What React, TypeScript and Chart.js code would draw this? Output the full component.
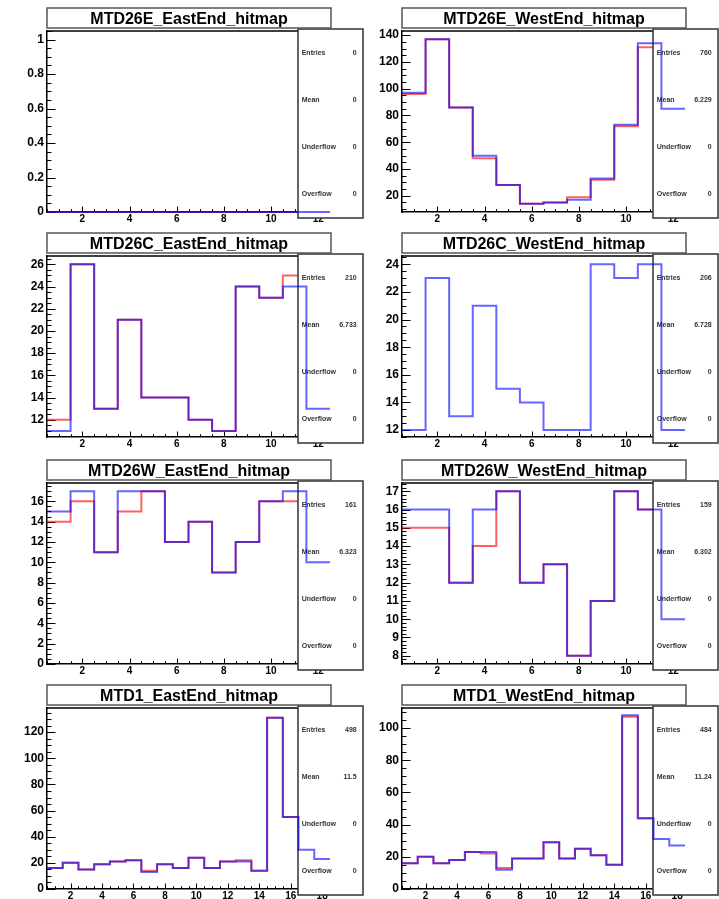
import React, { useEffect, useRef } from 'react';
import { Chart, registerables } from 'chart.js';

Chart.register(...registerables);

const FONT = "'Liberation Sans', Arial, Helvetica, sans-serif";

// ---------- data ----------
const titles = [
  'MTD26E_EastEnd_hitmap',
  'MTD26E_WestEnd_hitmap',
  'MTD26C_EastEnd_hitmap',
  'MTD26C_WestEnd_hitmap',
  'MTD26W_EastEnd_hitmap',
  'MTD26W_WestEnd_hitmap',
  'MTD1_EastEnd_hitmap',
  'MTD1_WestEnd_hitmap',
];

// red = first-drawn histogram (stats box belongs to it), blue = overlay
const e26EastRed = [0, 0, 0, 0, 0, 0, 0, 0, 0, 0, 0, 0];
const e26EastBlue = [0, 0, 0, 0, 0, 0, 0, 0, 0, 0, 0, 0];
const e26WestRed = [96, 137, 86, 48, 28, 14, 15, 19, 32, 72, 131, 82];
const e26WestBlue = [97, 137, 86, 50, 28, 14, 15, 17, 33, 73, 134, 85];
const c26EastRed = [12, 26, 13, 21, 14, 14, 12, 11, 24, 23, 25, 15];
const c26EastBlue = [11, 26, 13, 21, 14, 14, 12, 11, 24, 23, 24, 13];
const c26WestRed = [12, 23, 13, 21, 15, 14, 12, 12, 24, 23, 24, 13];
const c26WestBlue = [12, 23, 13, 21, 15, 14, 12, 12, 24, 23, 24, 12];
const w26EastRed = [14, 16, 11, 15, 17, 12, 14, 9, 12, 16, 16, 9];
const w26EastBlue = [15, 17, 11, 17, 17, 12, 14, 9, 12, 16, 17, 10];
const w26WestRed = [15, 15, 12, 14, 17, 12, 13, 8, 11, 17, 16, 9];
const w26WestBlue = [16, 16, 12, 16, 17, 12, 13, 8, 11, 17, 16, 10];
const mtd1EastRed = [16, 20, 15, 19, 21, 22, 14, 19, 16, 24, 16, 21, 22, 14, 131, 55, 30, 23];
const mtd1EastBlue = [16, 20, 15, 19, 21, 22, 13, 19, 16, 24, 16, 21, 21, 14, 131, 55, 30, 23];
const mtd1WestRed = [16, 20, 16, 18, 23, 22, 13, 19, 19, 29, 19, 25, 21, 15, 107, 44, 31, 27];
const mtd1WestBlue = [16, 20, 16, 18, 23, 23, 12, 19, 19, 29, 19, 25, 21, 15, 108, 44, 31, 27];

const underflowCounts = [0, 0, 0, 0, 0, 0, 0, 0];
const overflowCounts = [0, 0, 0, 0, 0, 0, 0, 0];

// axis ranges & tick labels
const xTicks12 = [2, 4, 6, 8, 10, 12];
const xTicks18 = [2, 4, 6, 8, 10, 12, 14, 16, 18];

const yRangeE26East = [0, 1.05];
const yRangeE26West = [7.9, 143.1];
const yRangeC26East = [10.45, 26.75];
const yRangeC26West = [11.5, 24.6];
const yRangeW26East = [0, 17.8];
const yRangeW26West = [7.55, 17.45];
const yRangeMtd1East = [0, 138.5];
const yRangeMtd1West = [0, 112.5];

const yTicksE26East = [0, 0.2, 0.4, 0.6, 0.8, 1];
const yTicksE26West = [20, 40, 60, 80, 100, 120, 140];
const yTicksC26East = [12, 14, 16, 18, 20, 22, 24, 26];
const yTicksC26West = [12, 14, 16, 18, 20, 22, 24];
const yTicksW26East = [0, 2, 4, 6, 8, 10, 12, 14, 16];
const yTicksW26West = [8, 9, 10, 11, 12, 13, 14, 15, 16, 17];
const yTicksMtd1East = [0, 20, 40, 60, 80, 100, 120];
const yTicksMtd1West = [0, 20, 40, 60, 80, 100];

const statLabels = ['Entries', 'Mean', 'Underflow', 'Overflow'];

// ---------- layout / style constants ----------
const X_LOW = 0.5;
const ROW_TOPS = [0, 225, 452, 677];
const CANVAS_H = 225;
const PLOT_TOP = 31;
const PLOT_RIGHT = 330;
const Y_AXIS_W = 47;
const X_AXIS_H = 13;
const TITLE_BOX = { x: 47, y: 8, w: 284, h: 20 };
const STATS_BOX = { x: 298, y: 29, w: 65, h: 189 };
const RED = 'rgba(255,0,0,0.62)';
const BLUE = 'rgba(0,0,255,0.6)';

type PanelCfg = {
  title: string;
  red: number[];
  blue: number[];
  yRange: number[];
  yTicks: number[];
  yMinor: number;
  xTicks: number[];
  showRed: boolean;
  underflow: number;
  overflow: number;
};

const panels: PanelCfg[] = [
  { title: titles[0], red: e26EastRed, blue: e26EastBlue, yRange: yRangeE26East, yTicks: yTicksE26East, yMinor: 0.05, xTicks: xTicks12, showRed: true, underflow: underflowCounts[0], overflow: overflowCounts[0] },
  { title: titles[1], red: e26WestRed, blue: e26WestBlue, yRange: yRangeE26West, yTicks: yTicksE26West, yMinor: 5, xTicks: xTicks12, showRed: true, underflow: underflowCounts[1], overflow: overflowCounts[1] },
  { title: titles[2], red: c26EastRed, blue: c26EastBlue, yRange: yRangeC26East, yTicks: yTicksC26East, yMinor: 0.5, xTicks: xTicks12, showRed: true, underflow: underflowCounts[2], overflow: overflowCounts[2] },
  { title: titles[3], red: c26WestRed, blue: c26WestBlue, yRange: yRangeC26West, yTicks: yTicksC26West, yMinor: 0.5, xTicks: xTicks12, showRed: false, underflow: underflowCounts[3], overflow: overflowCounts[3] },
  { title: titles[4], red: w26EastRed, blue: w26EastBlue, yRange: yRangeW26East, yTicks: yTicksW26East, yMinor: 0.5, xTicks: xTicks12, showRed: true, underflow: underflowCounts[4], overflow: overflowCounts[4] },
  { title: titles[5], red: w26WestRed, blue: w26WestBlue, yRange: yRangeW26West, yTicks: yTicksW26West, yMinor: 0.2, xTicks: xTicks12, showRed: true, underflow: underflowCounts[5], overflow: overflowCounts[5] },
  { title: titles[6], red: mtd1EastRed, blue: mtd1EastBlue, yRange: yRangeMtd1East, yTicks: yTicksMtd1East, yMinor: 5, xTicks: xTicks18, showRed: true, underflow: underflowCounts[6], overflow: overflowCounts[6] },
  { title: titles[7], red: mtd1WestRed, blue: mtd1WestBlue, yRange: yRangeMtd1West, yTicks: yTicksMtd1West, yMinor: 5, xTicks: xTicks18, showRed: true, underflow: underflowCounts[7], overflow: overflowCounts[7] },
];

// ---------- helpers ----------
function histPoints(values: number[]) {
  const pts = values.map((v, i) => ({ x: X_LOW + i, y: v }));
  pts.push({ x: X_LOW + values.length, y: values[values.length - 1] });
  return pts;
}

function fmtNum(v: number): string {
  if (v === 0) return '0';
  return String(parseFloat(v.toPrecision(4)));
}

function statValues(p: PanelCfg): string[] {
  const entries = p.red.reduce((a, b) => a + b, 0);
  const wsum = p.red.reduce((a, v, i) => a + v * (X_LOW + i + 0.5), 0);
  const mean = entries > 0 ? wsum / entries : 0;
  return [String(entries), fmtNum(mean), String(p.underflow), String(p.overflow)];
}

function tickLabel(v: number | string) {
  return String(+Number(v).toFixed(4));
}

function makePlugin(p: PanelCfg) {
  return {
    id: 'rootPad',
    beforeDatasetsDraw(chart: any) {
      const { ctx, chartArea: a, scales } = chart;
      const x = scales.x;
      const y = scales.y;
      ctx.save();
      ctx.strokeStyle = '#000';
      ctx.lineWidth = 1.5;
      ctx.beginPath();
      ctx.moveTo(a.left, a.top);
      ctx.lineTo(a.right, a.top);
      ctx.lineTo(a.right, a.bottom);
      ctx.stroke();

      ctx.lineWidth = 1;
      ctx.beginPath();
      // y ticks (inward)
      const [ymin, ymax] = p.yRange;
      for (const v of p.yTicks) {
        const py = Math.round(y.getPixelForValue(v)) + 0.5;
        ctx.moveTo(a.left, py);
        ctx.lineTo(a.left + 8.5, py);
      }
      const k0 = Math.ceil(ymin / p.yMinor - 1e-9);
      const k1 = Math.floor(ymax / p.yMinor + 1e-9);
      for (let k = k0; k <= k1; k++) {
        const v = k * p.yMinor;
        if (p.yTicks.some((t) => Math.abs(t - v) < 1e-6)) continue;
        const py = Math.round(y.getPixelForValue(v)) + 0.5;
        ctx.moveTo(a.left, py);
        ctx.lineTo(a.left + 4.5, py);
      }
      // x ticks (inward)
      const xmax = X_LOW + p.red.length;
      for (let k = 1; k * 0.5 < xmax; k++) {
        const v = k * 0.5;
        const major = p.xTicks.some((t) => Math.abs(t - v) < 1e-6);
        const px = Math.round(x.getPixelForValue(v)) + 0.5;
        ctx.moveTo(px, a.bottom);
        ctx.lineTo(px, a.bottom - (major ? 5.5 : 2.8));
      }
      ctx.stroke();
      ctx.restore();
    },
    beforeDatasetDraw(chart: any, args: any) {
      if (args.index !== 1) return;
      const { ctx } = chart;
      const { x, y, w, h } = STATS_BOX;
      ctx.save();
      ctx.fillStyle = '#fff';
      ctx.fillRect(x, y, w, h);
      ctx.strokeStyle = '#333';
      ctx.lineWidth = 1.5;
      ctx.strokeRect(x, y, w, h);
      const vals = statValues(p);
      ctx.font = `bold 7px ${FONT}`;
      ctx.fillStyle = '#333';
      ctx.textBaseline = 'middle';
      const rowH = h / statLabels.length;
      statLabels.forEach((lab, i) => {
        const cy = y + rowH * (i + 0.5);
        ctx.textAlign = 'left';
        ctx.fillText(lab, x + 3.7, cy);
        ctx.textAlign = 'right';
        ctx.fillText(vals[i], x + w - 6.3, cy);
      });
      ctx.restore();
    },
    afterDraw(chart: any) {
      const { ctx } = chart;
      const { x, y, w, h } = TITLE_BOX;
      ctx.save();
      ctx.fillStyle = '#fff';
      ctx.fillRect(x, y, w, h);
      ctx.strokeStyle = '#555';
      ctx.lineWidth = 1.5;
      ctx.strokeRect(x, y, w, h);
      ctx.fillStyle = '#000';
      ctx.font = `bold 16px ${FONT}`;
      ctx.textAlign = 'center';
      ctx.textBaseline = 'alphabetic';
      ctx.fillText(p.title, x + w / 2, y + 16);
      ctx.restore();
    },
  };
}

function Panel({ cfg, left, top, width }: { cfg: PanelCfg; left: number; top: number; width: number }) {
  const ref = useRef<HTMLCanvasElement>(null);
  useEffect(() => {
    const p = cfg;
    const chart = new Chart(ref.current as HTMLCanvasElement, {
      type: 'line',
      data: {
        datasets: [
          {
            label: 'ref',
            data: histPoints(p.red),
            borderColor: RED,
            borderWidth: 2,
            stepped: true,
            pointRadius: 0,
            fill: false,
            order: 2,
            hidden: !p.showRed,
            clip: 3,
          } as any,
          {
            label: 'cur',
            data: histPoints(p.blue),
            borderColor: BLUE,
            borderWidth: 2,
            stepped: true,
            pointRadius: 0,
            fill: false,
            order: 1,
            clip: 3,
          } as any,
        ],
      },
      options: {
        animation: false,
        responsive: false,
        devicePixelRatio: 1,
        events: [],
        layout: { padding: { top: PLOT_TOP, right: width - PLOT_RIGHT, left: 0, bottom: 0 } },
        plugins: {
          legend: { display: false },
          tooltip: { enabled: false },
          title: { display: false },
        },
        scales: {
          x: {
            type: 'linear',
            min: X_LOW,
            max: X_LOW + p.red.length,
            grid: { display: false, drawTicks: false },
            border: { display: true, color: '#000', width: 1.5 },
            ticks: {
              color: '#000',
              font: { family: FONT, size: 10, weight: 'bold' },
              padding: 1,
              maxRotation: 0,
              autoSkip: false,
              callback: (v: any) => tickLabel(v),
            },
            afterBuildTicks: (s: any) => {
              s.ticks = p.xTicks.map((v) => ({ value: v }));
            },
            afterFit: (s: any) => {
              s.height = X_AXIS_H;
            },
          },
          y: {
            type: 'linear',
            min: p.yRange[0],
            max: p.yRange[1],
            grid: { display: false, drawTicks: false },
            border: { display: true, color: '#000', width: 1.5 },
            ticks: {
              color: '#000',
              font: { family: FONT, size: 12, weight: 'bold' },
              padding: 3,
              autoSkip: false,
              callback: (v: any) => tickLabel(v),
            },
            afterBuildTicks: (s: any) => {
              s.ticks = p.yTicks.map((v) => ({ value: v }));
            },
            afterFit: (s: any) => {
              s.width = Y_AXIS_W;
            },
          },
        },
      } as any,
      plugins: [makePlugin(p) as any],
    });
    return () => chart.destroy();
  }, [cfg, width]);
  return (
    <canvas
      ref={ref}
      width={width}
      height={CANVAS_H}
      style={{ position: 'absolute', left, top, width, height: CANVAS_H, display: 'block' }}
    />
  );
}

export default function App() {
  return (
    <div
      style={{
        position: 'absolute',
        left: 0,
        top: 0,
        width: 719,
        height: 899,
        overflow: 'hidden',
        background: '#fff',
      }}
    >
      {panels.map((p, i) => {
        const col = i % 2;
        const row = Math.floor(i / 2);
        return (
          <Panel
            key={p.title}
            cfg={p}
            left={col === 0 ? 0 : 355}
            top={ROW_TOPS[row]}
            width={col === 0 ? 366 : 364}
          />
        );
      })}
    </div>
  );
}
